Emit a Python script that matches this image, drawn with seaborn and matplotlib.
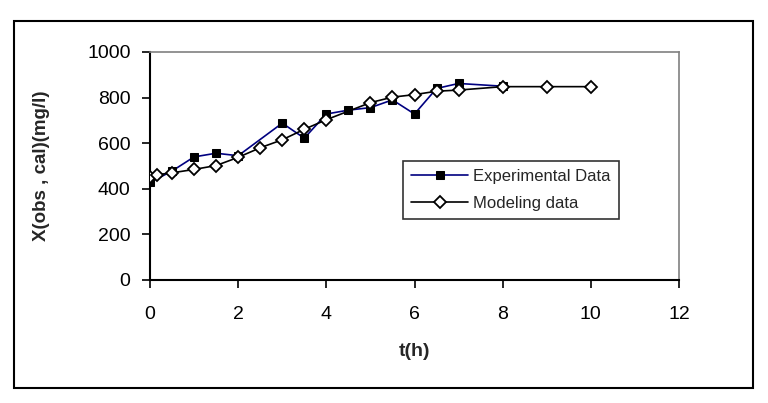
import matplotlib
matplotlib.use("Agg")
import matplotlib.pyplot as plt
import seaborn as sns
import pandas as pd
from matplotlib.patches import Rectangle

sns.set_style("white")
plt.rcParams['font.family'] = ['Liberation Sans', 'DejaVu Sans']

exp_t = [0, 0.5, 1, 1.5, 2, 3, 3.5, 4, 4.5, 5, 5.5, 6, 6.5, 7, 8]
exp_x = [428, 478, 540, 556, 545, 688, 622, 728, 745, 756, 790, 728, 840, 862, 850]
mod_t = [0, 0.17, 0.5, 1, 1.5, 2, 2.5, 3, 3.5, 4, 5, 5.5, 6, 6.5, 7, 8, 9, 10]
mod_x = [450, 462, 470, 485, 502, 538, 580, 615, 661, 703, 778, 802, 813, 828, 833, 848, 848, 848]
x_ticks = [0, 2, 4, 6, 8, 10, 12]
y_ticks = [0, 200, 400, 600, 800, 1000]

fig = plt.figure(figsize=(7.68, 4.03), dpi=100)
fig.patch.set_facecolor('white')
fig.patches.append(Rectangle((14/768, 1 - 388/403), (753-14)/768, (388-21)/403,
                             transform=fig.transFigure, fill=False, edgecolor='black',
                             linewidth=1.5, zorder=0))
ax = fig.add_axes([150/768, 1 - 280/403, (679-150)/768, (280-52)/403])

df_exp = pd.DataFrame({'t': exp_t, 'X': exp_x})
df_mod = pd.DataFrame({'t': mod_t, 'X': mod_x})

sns.lineplot(data=df_exp, x='t', y='X', ax=ax, sort=False, color='#000080', linewidth=1.2,
             marker='s', markersize=6, markerfacecolor='black', markeredgecolor='black',
             label='Experimental Data', zorder=3)
sns.lineplot(data=df_mod, x='t', y='X', ax=ax, sort=False, color='black', linewidth=1.2,
             marker='D', markersize=6, markerfacecolor='white', markeredgecolor='black',
             markeredgewidth=1.3, label='Modeling data', zorder=4)

ax.set_xlim(0, 12)
ax.set_ylim(0, 1000)
ax.set_xticks(x_ticks)
ax.set_yticks(y_ticks)
ax.tick_params(axis='both', direction='out', length=6, width=1.2, labelsize=14,
               colors='black', left=True, bottom=True, pad=8)
ax.tick_params(axis='x', pad=13)
for s in ['left', 'bottom']:
    ax.spines[s].set_color('black')
    ax.spines[s].set_linewidth(1.5)
for s in ['top', 'right']:
    ax.spines[s].set_color('#808080')
    ax.spines[s].set_linewidth(1.2)

ax.set_xlabel('t(h)', fontsize=14, fontweight='bold', labelpad=14)
ax.set_ylabel('X(obs , cal)(mg/l)', fontsize=13.5, fontweight='bold', labelpad=27)

leg = ax.legend(loc='upper left', bbox_to_anchor=((403-150)/529, (280-161)/228),
                frameon=True, fancybox=False, fontsize=12, handlelength=3.4,
                borderpad=0.5, labelspacing=0.7, handletextpad=0.3,
                borderaxespad=0)
leg.get_frame().set_edgecolor('black')
leg.get_frame().set_linewidth(1.2)

fig.savefig('out.png', dpi=100)
